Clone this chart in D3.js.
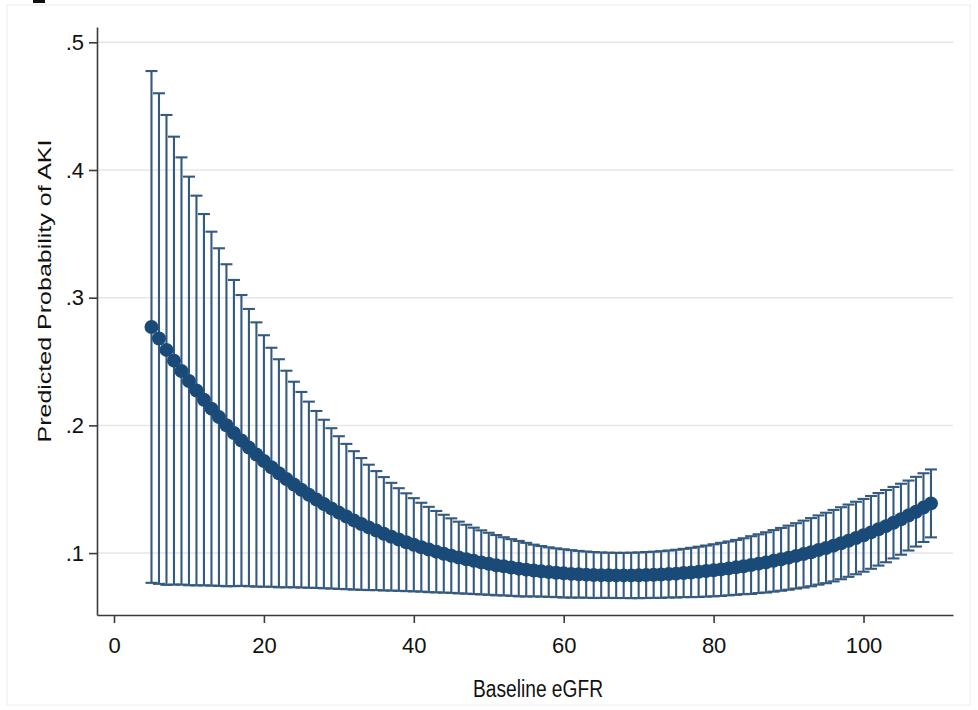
<!DOCTYPE html>
<html lang="en">
<head>
<meta charset="UTF-8">
<title>Predicted Probability of AKI</title>
<script src="https://cdnjs.cloudflare.com/ajax/libs/d3/7.8.5/d3.min.js"></script>
<style>
    body { margin: 0; background: #fff; }
    svg { display: block; font-family: "Liberation Sans", Arial, sans-serif; }
</style>
</head>
<body>
<svg id="chart" width="978" height="710"></svg>
<script>
    // baseline eGFR values
    const egfr = [5, 6, 7, 8, 9, 10, 11, 12, 13, 14, 15, 16, 17, 18, 19, 20, 21, 22, 23, 24,
        25, 26, 27, 28, 29, 30, 31, 32, 33, 34, 35, 36, 37, 38, 39, 40, 41, 42, 43, 44,
        45, 46, 47, 48, 49, 50, 51, 52, 53, 54, 55, 56, 57, 58, 59, 60, 61, 62, 63, 64,
        65, 66, 67, 68, 69, 70, 71, 72, 73, 74, 75, 76, 77, 78, 79, 80, 81, 82, 83, 84,
        85, 86, 87, 88, 89, 90, 91, 92, 93, 94, 95, 96, 97, 98, 99, 100, 101, 102, 103, 104,
        105, 106, 107, 108, 109];

    // predicted probability
    const predicted = [.2771, .2680, .2591, .2507, .2426, .2348, .2273, .2201, .2131, .2065,
        .2001, .1940, .1882, .1826, .1772, .1721, .1672, .1625, .1580, .1537,
        .1496, .1457, .1420, .1384, .1350, .1317, .1286, .1256, .1228, .1201,
        .1176, .1151, .1128, .1106, .1085, .1065, .1046, .1028, .1011, .0995,
        .0980, .0965, .0952, .0939, .0927, .0916, .0905, .0896, .0887, .0878,
        .0870, .0863, .0857, .0851, .0846, .0841, .0837, .0834, .0831, .0828,
        .0827, .0826, .0825, .0825, .0825, .0826, .0828, .0830, .0832, .0836,
        .0839, .0844, .0848, .0853, .0859, .0865, .0872, .0880, .0888, .0897,
        .0906, .0917, .0927, .0939, .0951, .0964, .0978, .0992, .1007, .1024,
        .1040, .1058, .1077, .1097, .1118, .1139, .1162, .1186, .1211, .1238,
        .1265, .1294, .1324, .1356, .1389];

    // lower 95% CI
    const lower = [.0767, .0759, .0751, .0753, .0753, .0748, .0747, .0747, .0745, .0743,
        .0740, .0741, .0743, .0740, .0737, .0736, .0736, .0732, .0732, .0732,
        .0730, .0728, .0727, .0724, .0722, .0719, .0717, .0714, .0712, .0710,
        .0710, .0707, .0706, .0704, .0702, .0700, .0698, .0694, .0692, .0690,
        .0688, .0684, .0682, .0679, .0676, .0673, .0669, .0668, .0665, .0661,
        .0660, .0660, .0659, .0657, .0655, .0652, .0651, .0651, .0650, .0648,
        .0649, .0649, .0648, .0648, .0647, .0647, .0648, .0649, .0649, .0652,
        .0652, .0655, .0655, .0656, .0659, .0661, .0664, .0669, .0673, .0678,
        .0680, .0687, .0691, .0698, .0705, .0713, .0722, .0730, .0740, .0753,
        .0764, .0778, .0795, .0814, .0834, .0854, .0877, .0902, .0928, .0958,
        .0987, .1020, .1051, .1087, .1123];

    // upper 95% CI
    const upper = [.4775, .4601, .4431, .4261, .4099, .3948, .3799, .3655, .3517, .3387,
        .3262, .3139, .3021, .2912, .2807, .2706, .2608, .2518, .2428, .2342,
        .2262, .2186, .2113, .2044, .1978, .1915, .1855, .1798, .1744, .1692,
        .1642, .1595, .1550, .1508, .1468, .1430, .1394, .1362, .1330, .1300,
        .1272, .1246, .1222, .1199, .1178, .1159, .1141, .1124, .1109, .1095,
        .1080, .1066, .1055, .1045, .1037, .1030, .1023, .1017, .1012, .1008,
        .1005, .1003, .1002, .1002, .1003, .1005, .1008, .1011, .1015, .1020,
        .1026, .1033, .1041, .1050, .1059, .1069, .1080, .1091, .1103, .1116,
        .1132, .1147, .1163, .1180, .1197, .1215, .1234, .1254, .1274, .1295,
        .1316, .1338, .1359, .1380, .1402, .1424, .1447, .1470, .1494, .1518,
        .1543, .1568, .1597, .1625, .1655];

    const xTicks = [0, 20, 40, 60, 80, 100];
    const yTicks = [.1, .2, .3, .4, .5];

    const barColor = "#345a80";
    const dotColor = "#1a4a78";

    const svg = d3.select("#chart");
    const data = egfr.map((d, i) => ({ x: d, p: predicted[i], lo: lower[i], hi: upper[i] }));

    const plotLeft = 97, plotRight = 953, plotTop = 27, plotBottom = 615;
    const x = d3.scaleLinear().domain([-2.27, 111.94]).range([plotLeft, plotRight]);
    const y = d3.scaleLinear().domain([0.0515, 0.512]).range([plotBottom, plotTop]);

    // faint outer frame
    svg.append("rect")
        .attr("x", 7).attr("y", 5).attr("width", 963).attr("height", 700)
        .attr("fill", "none").attr("stroke", "#ececec");
    svg.append("rect")
        .attr("x", 33).attr("y", 0).attr("width", 12).attr("height", 3)
        .attr("fill", "#111");

    // grid
    svg.append("g")
        .selectAll("line")
        .data(yTicks)
        .enter()
        .append("line")
        .attr("x1", plotLeft).attr("x2", plotRight)
        .attr("y1", d => y(d)).attr("y2", d => y(d))
        .attr("stroke", "#e6e6e6")
        .attr("stroke-width", 1.5);

    // error bars
    const bars = svg.append("g")
        .attr("stroke", barColor)
        .attr("stroke-width", 2.1);

    bars.selectAll(".whisker")
        .data(data)
        .enter()
        .append("line")
        .attr("x1", d => x(d.x)).attr("x2", d => x(d.x))
        .attr("y1", d => y(d.lo)).attr("y2", d => y(d.hi));

    ["lo", "hi"].forEach(k => {
        bars.selectAll(".cap-" + k)
            .data(data)
            .enter()
            .append("line")
            .attr("x1", d => x(d.x) - 6).attr("x2", d => x(d.x) + 6)
            .attr("y1", d => y(d[k])).attr("y2", d => y(d[k]));
    });

    // predicted points
    svg.append("g")
        .selectAll("circle")
        .data(data)
        .enter()
        .append("circle")
        .attr("cx", d => x(d.x))
        .attr("cy", d => y(d.p))
        .attr("r", 7)
        .attr("fill", dotColor);

    // axes
    const yAxis = svg.append("g")
        .attr("transform", `translate(${plotLeft},0)`)
        .call(d3.axisLeft(y).tickValues(yTicks).tickSize(8).tickSizeOuter(0).tickPadding(5)
            .tickFormat(d => d3.format(".1f")(d).replace(/^0/, "")));

    const xAxis = svg.append("g")
        .attr("transform", `translate(0,${plotBottom})`)
        .call(d3.axisBottom(x).tickValues(xTicks).tickSize(8).tickSizeOuter(0).tickPadding(14));

    [xAxis, yAxis].forEach(g => {
        g.select(".domain").attr("stroke", "#3a3a3a").attr("stroke-width", 1.6);
        g.selectAll(".tick line").attr("stroke", "#3a3a3a").attr("stroke-width", 1.6);
        g.selectAll(".tick text").attr("fill", "#111").style("font-size", "22px")
            .style("font-family", "'Liberation Sans', Arial, sans-serif");
    });

    // titles
    svg.append("text")
        .attr("transform", "translate(538,697) scale(1,1.25)")
        .attr("text-anchor", "middle")
        .attr("fill", "#111")
        .style("font-size", "19px")
        .attr("textLength", 130)
        .attr("lengthAdjust", "spacingAndGlyphs")
        .text("Baseline eGFR");

    svg.append("text")
        .attr("transform", "translate(51,291) rotate(-90)")
        .attr("text-anchor", "middle")
        .attr("fill", "#111")
        .style("font-size", "19px")
        .attr("textLength", 303)
        .attr("lengthAdjust", "spacingAndGlyphs")
        .text("Predicted Probability of AKI");
</script>
</body>
</html>
